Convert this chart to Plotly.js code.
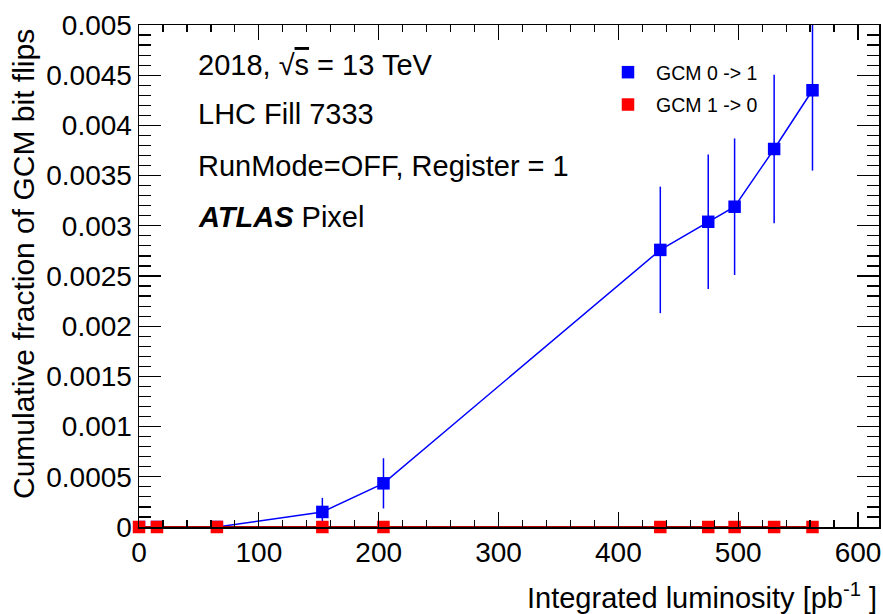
<!DOCTYPE html>
<html>
<head>
<meta charset="utf-8">
<script src="https://cdn.plot.ly/plotly-3.0.1.min.js"></script>
<style>
html,body{margin:0;padding:0;background:#fff;}
#chart{width:883px;height:614px;}
</style>
</head>
<body>
<div id="chart"></div>
<script>
// ---- data ----
const lumi = [0, 15, 65, 153, 204, 435, 475, 497, 530, 562];
const flips01 = [0, 0, 0, 0.00015, 0.000435, 0.00276, 0.00304, 0.00319, 0.003765, 0.00435];
const flips01Err = [0, 0, 0, 0.00014, 0.00025, 0.00063, 0.00067, 0.00068, 0.00074, 0.0008];
const flips10 = [0, 0, 0, 0, 0, 0, 0, 0, 0, 0];
const xTickVals = [0, 100, 200, 300, 400, 500, 600];
const xTickText = ["0", "100", "200", "300", "400", "500", "600"];
const yTickVals = [0, 0.0005, 0.001, 0.0015, 0.002, 0.0025, 0.003, 0.0035, 0.004, 0.0045, 0.005];
const yTickText = ["0", "0.0005", "0.001", "0.0015", "0.002", "0.0025", "0.003", "0.0035", "0.004", "0.0045", "0.005"];
const seriesNames = ["GCM 0 -> 1", "GCM 1 -> 0"];

const FONT = "Liberation Sans, Arial, Helvetica, sans-serif";

const traces = [
  { x: lumi, y: flips01, mode: 'lines', line: {color: '#0000ff', width: 1.5},
    showlegend: false, hoverinfo: 'skip', cliponaxis: true },
  { x: lumi, y: flips01, mode: 'markers', name: seriesNames[0], legendgroup: 'a',
    marker: {symbol: 'square', size: 12.5, color: '#0000ff'},
    error_y: {type: 'data', array: flips01Err, visible: true, color: '#0000ff', thickness: 1.5, width: 0},
    cliponaxis: true },
  { x: lumi, y: flips10, mode: 'lines', line: {color: '#b00000', width: 2},
    showlegend: false, hoverinfo: 'skip', cliponaxis: false },
  { x: lumi, y: flips10, mode: 'markers', name: seriesNames[1], legendgroup: 'b',
    marker: {symbol: 'square', size: 12.5, color: '#ff0000'},
    cliponaxis: false }
];

const axisCommon = {
  showgrid: false, zeroline: false, showline: true, linecolor: '#000', linewidth: 1.5,
  mirror: 'allticks', ticks: 'inside', tickcolor: '#000', tickwidth: 1.2,
  tickfont: {family: FONT, size: 28, color: '#000'}, tickmode: 'array'
};

const layout = {
  width: 883, height: 614,
  margin: {l: 139, r: 4, t: 25, b: 87, pad: 0},
  paper_bgcolor: '#fff', plot_bgcolor: '#fff',
  font: {family: FONT, color: '#000'},
  showlegend: true,
  legend: {x: (628 - 28 - 139) / 740, xanchor: 'left', y: (527 - 53) / 502, yanchor: 'top',
           bgcolor: 'rgba(0,0,0,0)', borderwidth: 0, itemwidth: 46, tracegroupgap: 4,
           font: {family: FONT, size: 19.5, color: '#000'}},
  xaxis: Object.assign({}, axisCommon, {
    range: [0, 617.5], tickvals: xTickVals, ticktext: xTickText, ticklen: 15,
    minor: {tickmode: 'linear', tick0: 0, dtick: 20, ticklen: 7, ticks: 'inside', tickcolor: '#000', tickwidth: 1.2}
  }),
  yaxis: Object.assign({}, axisCommon, {
    range: [0, 0.005], tickvals: yTickVals, ticktext: yTickText, ticklen: 22,
    minor: {tickmode: 'linear', tick0: 0, dtick: 0.0001, ticklen: 12, ticks: 'inside', tickcolor: '#000', tickwidth: 1.2}
  }),
  annotations: [
    {text: "2018, √<span style='text-decoration:overline'>s</span> = 13 TeV", xref: 'paper', yref: 'paper',
     x: (196 - 139) / 740, y: (527 - 64.5) / 502, xanchor: 'left', yanchor: 'middle', showarrow: false,
     font: {family: FONT, size: 29, color: '#000'}},
    {text: "LHC Fill 7333", xref: 'paper', yref: 'paper',
     x: (196 - 139) / 740, y: (527 - 114.5) / 502, xanchor: 'left', yanchor: 'middle', showarrow: false,
     font: {family: FONT, size: 29, color: '#000'}},
    {text: "RunMode=OFF, Register = 1", xref: 'paper', yref: 'paper',
     x: (196 - 139) / 740, y: (527 - 166) / 502, xanchor: 'left', yanchor: 'middle', showarrow: false,
     font: {family: FONT, size: 29, color: '#000'}},
    {text: "<b><i>ATLAS</i></b> Pixel", xref: 'paper', yref: 'paper',
     x: (196 - 139) / 740, y: (527 - 217) / 502, xanchor: 'left', yanchor: 'middle', showarrow: false,
     font: {family: FONT, size: 29, color: '#000'}},
    {text: "Cumulative fraction of GCM bit flips", xref: 'paper', yref: 'paper', textangle: -90,
     x: (23 - 139) / 740, y: (527 - 264) / 502, xanchor: 'center', yanchor: 'middle', showarrow: false,
     font: {family: FONT, size: 30, color: '#000'}},
    {text: "Integrated luminosity [pb<sup>-1</sup> ]", xref: 'paper', yref: 'paper',
     x: 1.0, y: (527 - 596) / 502, xanchor: 'right', yanchor: 'middle', showarrow: false,
     font: {family: FONT, size: 29, color: '#000'}}
  ]
};

Plotly.newPlot('chart', traces, layout, {displayModeBar: false, staticPlot: true});
</script>
</body>
</html>
